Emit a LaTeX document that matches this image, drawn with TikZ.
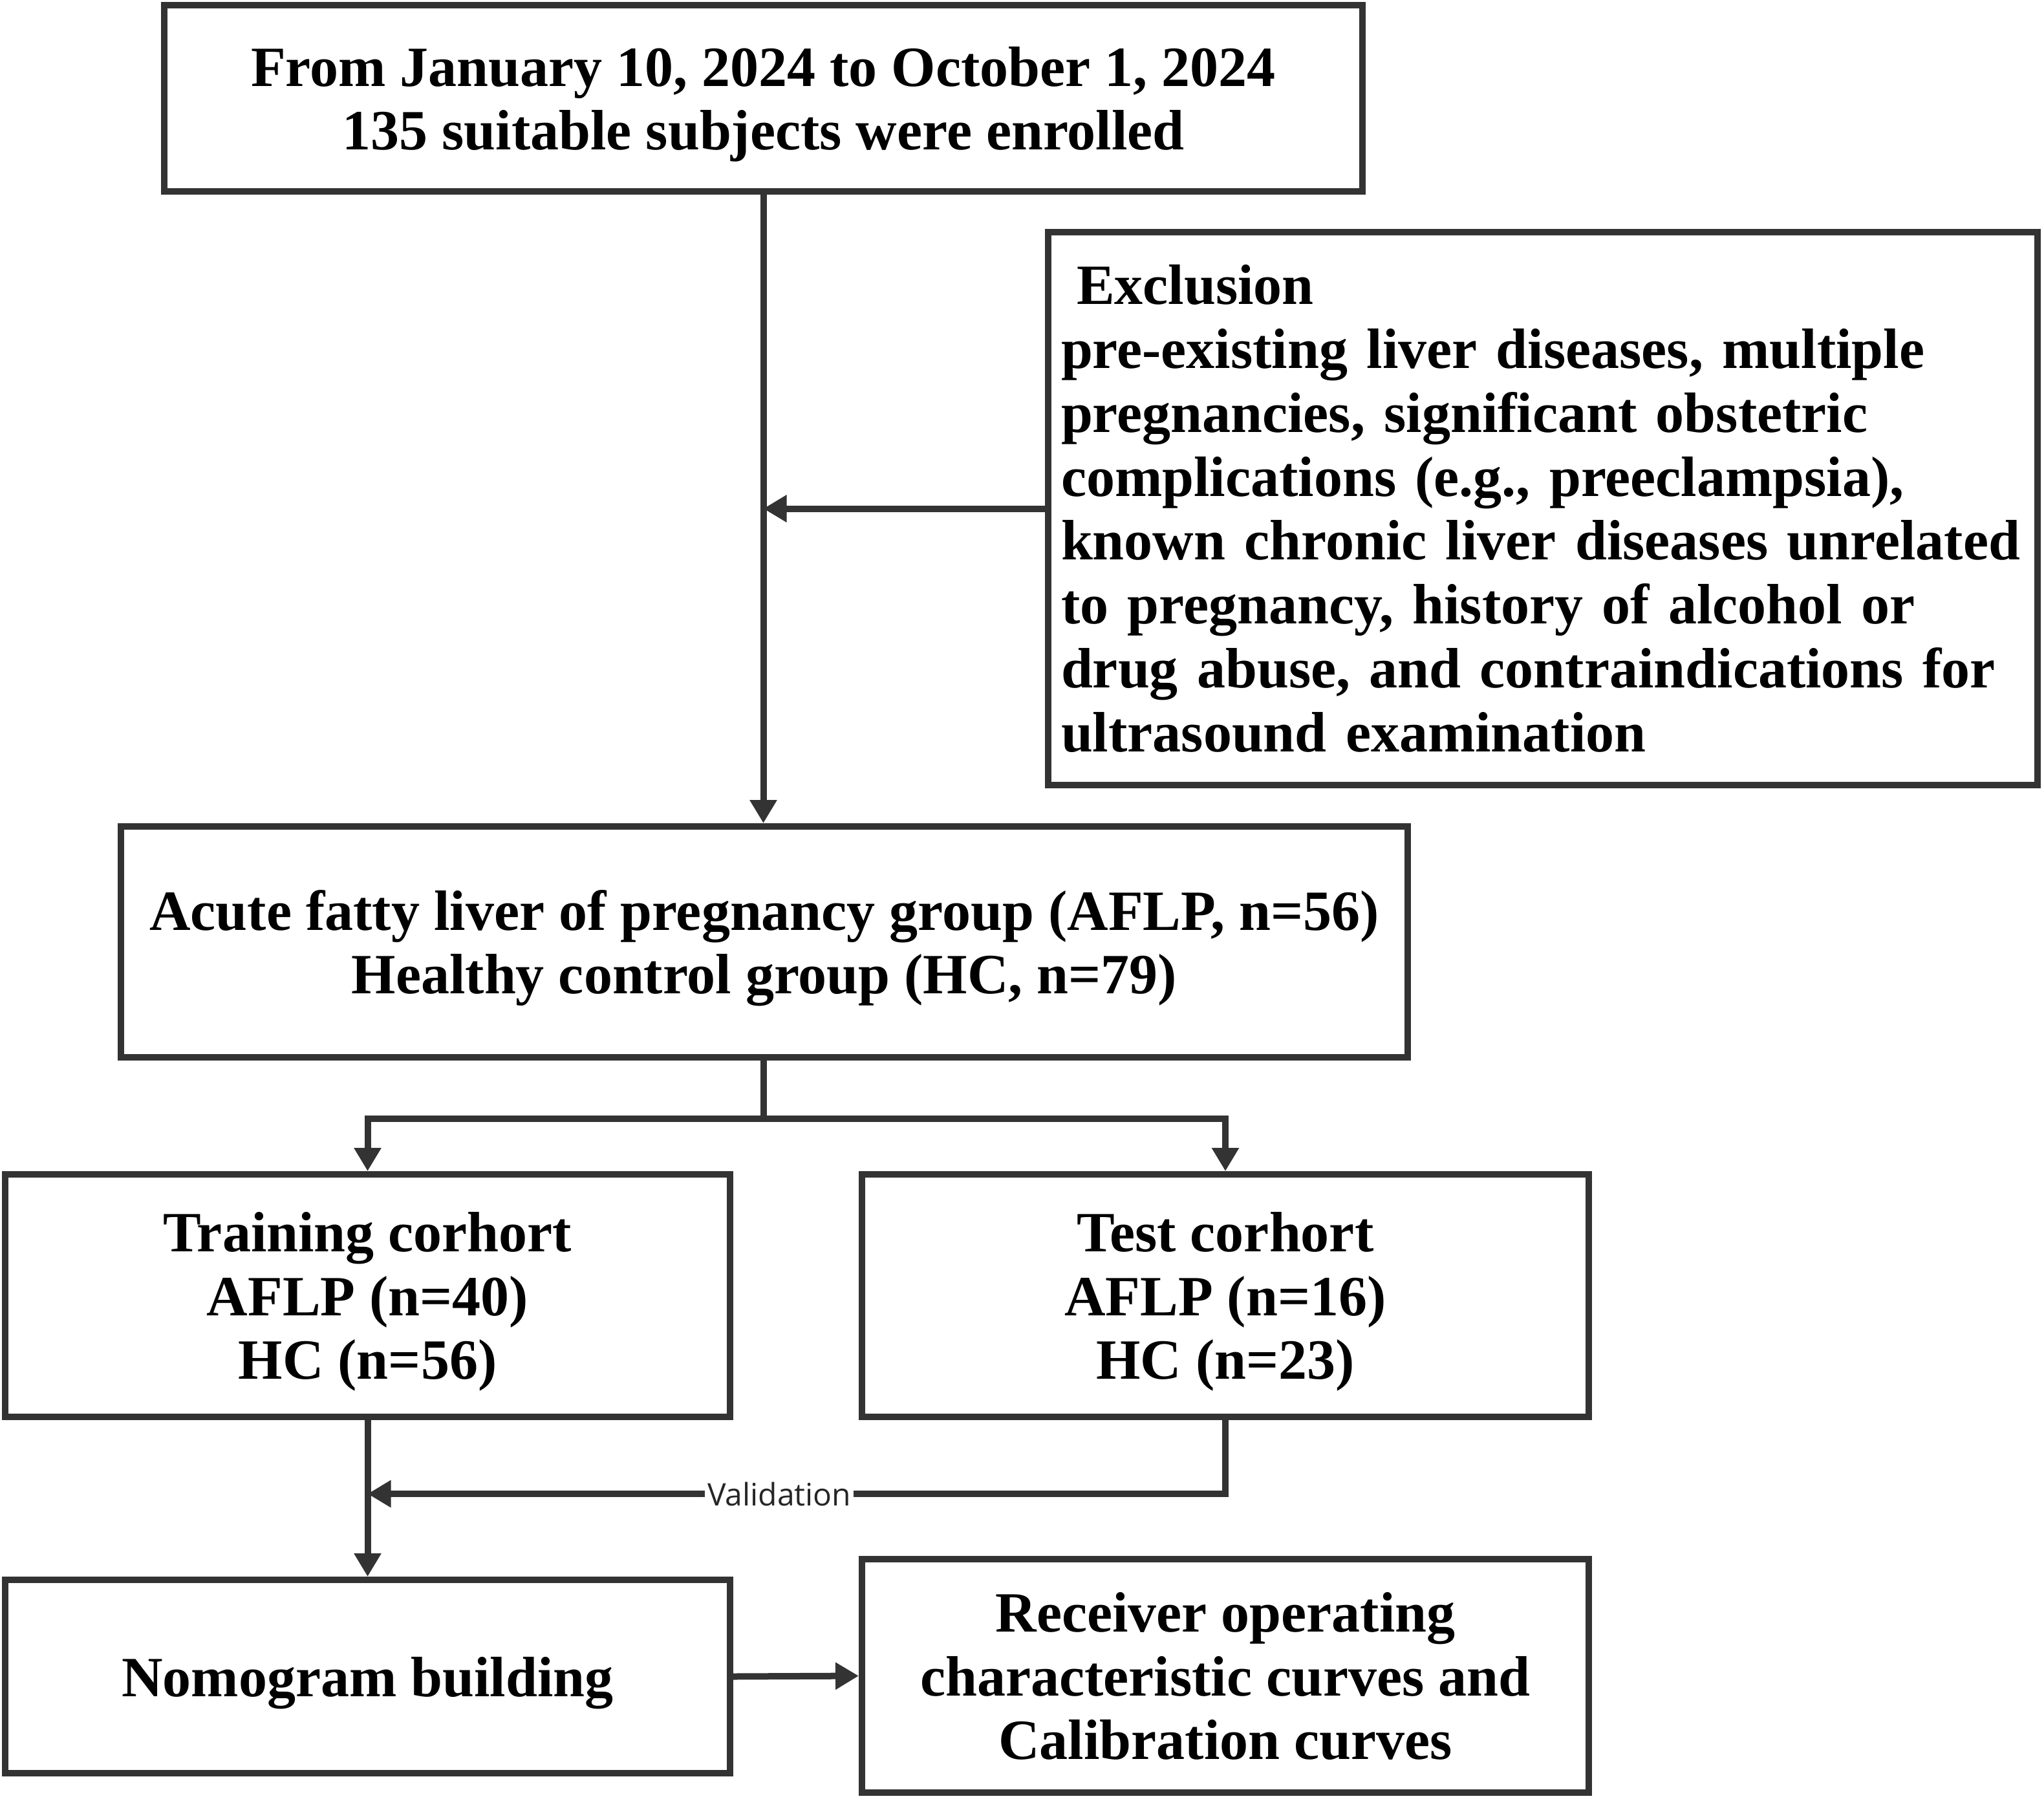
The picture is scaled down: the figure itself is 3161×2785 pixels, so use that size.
\documentclass[tikz,border=0pt]{standalone}
\usepackage{fontspec}
\setmainfont{Liberation Serif}
\newfontfamily\valfont{Open Sans}
\usetikzlibrary{arrows.meta}
\definecolor{linegray}{HTML}{333333}
\tikzset{
    box/.style={draw=linegray, line width=2.5pt, align=center, inner sep=0pt,
        font=\fontsize{22}{24.7}\selectfont\bfseries},
    cbox/.style={box, text depth=0pt},
    ln/.style={draw=linegray, line width=2.5pt},
    arr/.style={ln, -{Triangle[length=9pt,width=10pt]}},
}
\begin{document}
\begin{tikzpicture}[x=0.25pt,y=-0.25pt]% one unit = one pixel of the reference
\useasboundingbox (0,0) rectangle (3161,2785);
% draw boxes
\node[cbox, minimum width=463.25pt, minimum height=72pt] (enrol) at (1180.5,152)
    {From January 10, 2024 to October 1, 2024\\135 suitable subjects were enrolled};
\node[box, align=left, inner xsep=5pt, text width=372.5pt, minimum height=213.75pt] (excl) at (2386,786.5)
    {\hspace*{6pt}Exclusion\\
     pre-existing liver diseases, multiple\\
     pregnancies, significant obstetric\\
     complications (e.g., preeclampsia),\\
     known chronic liver diseases unrelated\\
     to pregnancy, history of alcohol or\\
     drug abuse, and contraindications for\\
     ultrasound examination};
\node[cbox, minimum width=497.5pt, minimum height=89.25pt] (groups) at (1182,1456.5)
    {Acute fatty liver of pregnancy group (AFLP, n=56)\\Healthy control group (HC, n=79)};
\node[cbox, minimum width=280.25pt, minimum height=93.75pt] (train) at (568.5,2003.5)
    {Training corhort\\AFLP (n=40)\\HC (n=56)};
\node[cbox, minimum width=281pt, minimum height=93.75pt] (test) at (1895,2003.5)
    {Test corhort\\AFLP (n=16)\\HC (n=23)};
\node[cbox, minimum width=280.25pt, minimum height=74.75pt] (nomo) at (568.5,2592.5)
    {Nomogram building};
\node[cbox, minimum width=281pt, minimum height=90.25pt] (roc) at (1895,2591.5)
    {Receiver operating\\characteristic curves and\\Calibration curves};
% draw connectors
\coordinate (split) at (1180.5,1730);
\coordinate (valjoin) at (train.south |- 0,2310);
\draw[arr] (enrol.south) -- (enrol.south |- groups.north);
\draw[arr] (excl.west) -- (enrol.south |- excl.west);
\draw[ln] (enrol.south |- groups.south) -- (split);
\draw[arr] (split) -| (train.north);
\draw[arr] (split) -| (test.north);
\draw[arr] (train.south) -- (nomo.north);
\draw[arr] (test.south) |- node[pos=0.76, fill=white, inner sep=1pt,
    font=\valfont\fontsize{12}{14}\selectfont, text=black!85] (val) {Validation} (valjoin);
\draw[arr] (nomo.east) -- (roc.west);
\end{tikzpicture}
\end{document}
